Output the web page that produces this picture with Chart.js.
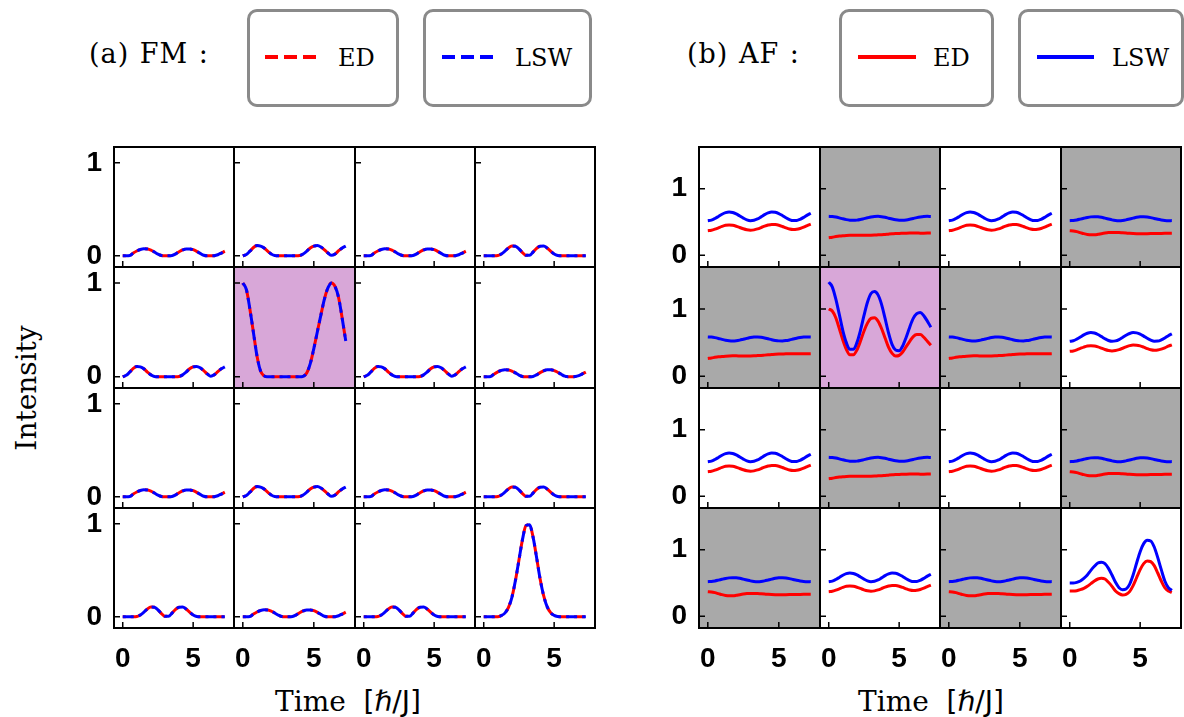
<!DOCTYPE html>
<html>
<head>
<meta charset="utf-8">
<script src="https://cdn.jsdelivr.net/npm/chart.js@4.4.1/dist/chart.umd.min.js"></script>
<style>
  body { margin: 0; background: #fff; width: 1184px; height: 717px; position: relative; overflow: hidden; font-family: 'DejaVu Serif', serif; }
  canvas { position: absolute; }
  .t { position: absolute; white-space: nowrap; line-height: 1; color: #000; }
  .box { position: absolute; top: 9px; height: 98px; border: 3px solid #8a8a8a; border-radius: 10px; box-sizing: border-box; }
  .ln { position: absolute; top: 55px; height: 4px; }
</style>
</head>
<body>
<div class="t" style="left:89px;top:40px;font-size:27px;letter-spacing:1px;word-spacing:1px">(a) FM :</div>
<div class="box" style="left:247px;width:152px"></div>
<div class="ln" style="left:265px;width:51px;background:repeating-linear-gradient(90deg,#f00 0 13px,transparent 13px 19px)"></div>
<div class="t" style="left:338px;top:46px;font-size:24px">ED</div>
<div class="box" style="left:423px;width:169px"></div>
<div class="ln" style="left:442px;width:51px;background:repeating-linear-gradient(90deg,#00f 0 13px,transparent 13px 19px)"></div>
<div class="t" style="left:515px;top:46px;font-size:24px">LSW</div>

<div class="t" style="left:687px;top:40px;font-size:27px;letter-spacing:1px;word-spacing:1px">(b) AF :</div>
<div class="box" style="left:839px;width:155px"></div>
<div class="ln" style="left:858px;width:58px;background:#f00"></div>
<div class="t" style="left:933px;top:46px;font-size:24px">ED</div>
<div class="box" style="left:1018px;width:166px"></div>
<div class="ln" style="left:1037px;width:57px;background:#00f"></div>
<div class="t" style="left:1112px;top:46px;font-size:24px">LSW</div>

<div class="t" style="left:27px;top:388px;font-size:28px;transform:translate(-50%,-50%) rotate(-90deg)">Intensity</div>
<div class="t" style="left:275px;top:688px;font-size:28px">Time&nbsp;&nbsp;<span style="font-family:'DejaVu Sans'">[<i>ℏ</i>/J]</span></div>
<div class="t" style="left:858px;top:688px;font-size:28px">Time&nbsp;&nbsp;<span style="font-family:'DejaVu Sans'">[<i>ℏ</i>/J]</span></div>

<script>
// time samples [hbar/J]
const times = [0, 0.25, 0.5, 0.75, 1, 1.25, 1.5, 1.75, 2, 2.25, 2.5, 2.75, 3, 3.25, 3.5,
  3.75, 4, 4.25, 4.5, 4.75, 5, 5.25, 5.5, 5.75, 6, 6.25, 6.5, 6.75, 7, 7.25];

// (a) FM : ED and LSW coincide
const fmSmall = [0, 0, 0.003, 0.03, 0.052, 0.068, 0.075, 0.073, 0.061, 0.041, 0.018, 0.003, 0, 0, 0.003,
  0.02, 0.044, 0.063, 0.074, 0.074, 0.066, 0.048, 0.026, 0.006, 0, 0, 0.002, 0.012, 0.03, 0.05];
const fmEarly = [0, 0.015, 0.05, 0.09, 0.11, 0.105, 0.085, 0.05, 0.02, 0.003, 0, 0, 0, 0, 0,
  0, 0.003, 0.02, 0.05, 0.085, 0.105, 0.11, 0.095, 0.065, 0.03, 0.005, 0.02, 0.055, 0.085, 0.105];
const fmMid = [0, 0, 0, 0, 0.003, 0.02, 0.05, 0.085, 0.105, 0.103, 0.075, 0.035, 0.005, 0.005, 0.04,
  0.08, 0.104, 0.105, 0.085, 0.05, 0.02, 0.004, 0, 0, 0, 0, 0, 0, 0, 0];
const fmSelf = [1.0, 0.93, 0.72, 0.47, 0.22, 0.06, 0.01, 0, 0, 0, 0, 0, 0, 0, 0,
  0, 0, 0.005, 0.04, 0.14, 0.3, 0.48, 0.66, 0.83, 0.95, 1.0, 0.96, 0.84, 0.62, 0.38];
const fmPeak = [0, 0, 0, 0, 0, 0.014, 0.04, 0.1, 0.21, 0.39, 0.61, 0.83, 0.98, 0.99, 0.86,
  0.64, 0.41, 0.23, 0.11, 0.045, 0.016, 0.004, 0, 0, 0, 0, 0, 0, 0, 0];

// (b) AF
const afWaveLSW = [0.52, 0.528, 0.552, 0.583, 0.616, 0.64, 0.65, 0.643, 0.621, 0.59, 0.558, 0.532, 0.52, 0.526, 0.546,
  0.577, 0.61, 0.636, 0.649, 0.645, 0.627, 0.597, 0.564, 0.537, 0.521, 0.523, 0.541, 0.569, 0.603, 0.631];
const afWaveED = [0.37, 0.376, 0.392, 0.413, 0.434, 0.45, 0.455, 0.451, 0.437, 0.418, 0.398, 0.383, 0.377, 0.382, 0.396,
  0.416, 0.438, 0.455, 0.464, 0.462, 0.451, 0.433, 0.412, 0.395, 0.387, 0.39, 0.403, 0.423, 0.447, 0.467];
const afGrayALSW = [0.585, 0.582, 0.574, 0.562, 0.548, 0.536, 0.528, 0.525, 0.528, 0.537, 0.55, 0.563, 0.575, 0.583, 0.585,
  0.58, 0.57, 0.557, 0.544, 0.533, 0.526, 0.525, 0.53, 0.54, 0.553, 0.566, 0.576, 0.583, 0.585, 0.583];
const afGrayAED = [0.265, 0.272, 0.281, 0.289, 0.295, 0.299, 0.302, 0.303, 0.303, 0.302, 0.301, 0.301, 0.302, 0.304, 0.307,
  0.31, 0.314, 0.318, 0.322, 0.326, 0.329, 0.331, 0.333, 0.334, 0.334, 0.334, 0.333, 0.333, 0.334, 0.336];
const afGrayBLSW = [0.52, 0.523, 0.531, 0.543, 0.556, 0.568, 0.577, 0.58, 0.578, 0.57, 0.558, 0.545, 0.532, 0.523, 0.52,
  0.523, 0.532, 0.545, 0.558, 0.57, 0.578, 0.58, 0.576, 0.566, 0.553, 0.54, 0.53, 0.523, 0.52, 0.521];
const afGrayBED = [0.37, 0.366, 0.355, 0.34, 0.325, 0.313, 0.307, 0.308, 0.315, 0.325, 0.334, 0.341, 0.344, 0.344, 0.342,
  0.338, 0.334, 0.33, 0.327, 0.325, 0.324, 0.324, 0.325, 0.326, 0.327, 0.328, 0.329, 0.33, 0.331, 0.332];
const afSelfLSW = [1.4, 1.33, 1.15, 0.92, 0.68, 0.5, 0.4, 0.4, 0.5, 0.68, 0.9, 1.1, 1.23, 1.26, 1.21,
  1.07, 0.86, 0.64, 0.47, 0.39, 0.38, 0.45, 0.58, 0.73, 0.86, 0.93, 0.95, 0.9, 0.82, 0.73];
const afSelfED = [1.0, 0.97, 0.87, 0.71, 0.54, 0.4, 0.32, 0.32, 0.39, 0.52, 0.67, 0.79, 0.86, 0.87, 0.82,
  0.71, 0.57, 0.43, 0.34, 0.3, 0.31, 0.36, 0.44, 0.52, 0.59, 0.62, 0.62, 0.58, 0.52, 0.46];
const afFarLSW = [0.5, 0.5, 0.51, 0.53, 0.57, 0.62, 0.69, 0.75, 0.8, 0.81, 0.79, 0.72, 0.62, 0.51, 0.43,
  0.4, 0.41, 0.48, 0.62, 0.8, 0.97, 1.09, 1.14, 1.13, 1.04, 0.88, 0.7, 0.53, 0.43, 0.39];
const afFarED = [0.38, 0.38, 0.385, 0.4, 0.42, 0.45, 0.49, 0.53, 0.56, 0.57, 0.56, 0.51, 0.45, 0.38, 0.34,
  0.32, 0.33, 0.37, 0.46, 0.58, 0.7, 0.79, 0.83, 0.82, 0.76, 0.65, 0.53, 0.43, 0.38, 0.36];

const fmGrid = [
  [fmSmall, fmEarly, fmSmall, fmMid],
  [fmEarly, fmSelf, fmEarly, fmSmall],
  [fmSmall, fmEarly, fmSmall, fmMid],
  [fmMid, fmSmall, fmMid, fmPeak]
];
const afGrid = [
  [[afWaveED, afWaveLSW], [afGrayAED, afGrayALSW], [afWaveED, afWaveLSW], [afGrayBED, afGrayBLSW]],
  [[afGrayAED, afGrayALSW], [afSelfED, afSelfLSW], [afGrayAED, afGrayALSW], [afWaveED, afWaveLSW]],
  [[afWaveED, afWaveLSW], [afGrayAED, afGrayALSW], [afWaveED, afWaveLSW], [afGrayBED, afGrayBLSW]],
  [[afGrayBED, afGrayBLSW], [afWaveED, afWaveLSW], [afGrayBED, afGrayBLSW], [afFarED, afFarLSW]]
];
const afShade = [
  ['w', 'g', 'w', 'g'],
  ['g', 'p', 'g', 'w'],
  ['w', 'g', 'w', 'g'],
  ['g', 'w', 'g', 'w']
];
const xTicks = [0, 5];
const yTicks = [0, 1];

const shadeColors = { w: '#ffffff', g: '#a9a9a9', p: '#d8a7d8' };
const L = 48, B = 86, T = 2, R = 2;

const framePlugin = {
  id: 'frame',
  beforeDraw(chart, args, opts) {
    const a = chart.chartArea, ctx = chart.ctx;
    ctx.save();
    ctx.fillStyle = opts.bg;
    ctx.fillRect(a.left, a.top, a.right - a.left, a.bottom - a.top);
    ctx.restore();
  },
  afterDraw(chart) {
    const a = chart.chartArea, ctx = chart.ctx;
    const xs = chart.scales.x, ys = chart.scales.y;
    ctx.save();
    ctx.strokeStyle = '#000';
    ctx.lineWidth = 1.5;
    ctx.beginPath();
    xTicks.forEach(v => {
      const px = xs.getPixelForValue(v);
      ctx.moveTo(px, a.bottom); ctx.lineTo(px, a.bottom - 6);
    });
    yTicks.forEach(v => {
      const py = ys.getPixelForValue(v);
      ctx.moveTo(a.left, py); ctx.lineTo(a.left + 6, py);
    });
    ctx.stroke();
    ctx.lineWidth = 2;
    ctx.strokeRect(a.left, a.top, a.right - a.left, a.bottom - a.top);
    ctx.restore();
  }
};

const tickFont = { family: "'Liberation Sans', Arial, sans-serif", size: 28, weight: 'bold' };

function noMargins(s) {
  s.paddingTop = 0; s.paddingBottom = 0; s.paddingLeft = 0; s.paddingRight = 0;
}

function makePanel(left, top, w, h, yMin, yMax, showX, showY, bg, datasets) {
  const cv = document.createElement('canvas');
  cv.width = L + w + R;
  cv.height = T + h + B;
  cv.style.left = (left - L) + 'px';
  cv.style.top = (top - T) + 'px';
  document.body.appendChild(cv);
  new Chart(cv.getContext('2d'), {
    type: 'line',
    data: { datasets },
    options: {
      responsive: false,
      animation: false,
      events: [],
      layout: { padding: { top: T, right: R, left: 0, bottom: 0 } },
      scales: {
        x: {
          type: 'linear', min: -0.62, max: 7.9,
          afterBuildTicks: s => { s.ticks = xTicks.map(v => ({ value: v })); },
          afterFit: s => { s.height = B; noMargins(s); },
          ticks: { display: showX, font: tickFont, color: '#000', padding: 6, maxRotation: 0, autoSkip: false },
          grid: { display: false }, border: { display: false }
        },
        y: {
          type: 'linear', min: yMin, max: yMax,
          afterBuildTicks: s => { s.ticks = yTicks.map(v => ({ value: v })); },
          afterFit: s => { s.width = L; noMargins(s); },
          ticks: { display: showY, font: tickFont, color: '#000', padding: 4 },
          grid: { display: false }, border: { display: false }
        }
      },
      plugins: { legend: { display: false }, tooltip: { enabled: false }, frame: { bg } }
    },
    plugins: [framePlugin]
  });
}

function series(vals, color, order, dash, offset) {
  return {
    data: times.map((t, i) => ({ x: t, y: vals[i] })),
    borderColor: color, borderWidth: 3, pointRadius: 0,
    cubicInterpolationMode: 'monotone', fill: false, order,
    borderDash: dash || [], borderDashOffset: offset || 0
  };
}

const pitch = 120.3;
const rowTop = r => Math.round(147 + r * pitch);

for (let r = 0; r < 4; r++) {
  for (let c = 0; c < 4; c++) {
    const top = rowTop(r), h = rowTop(r + 1) - top;
    // (a) FM
    const la = Math.round(114 + c * pitch), wa = Math.round(114 + (c + 1) * pitch) - la;
    const fv = fmGrid[r][c];
    makePanel(la, top, wa, h, -0.12, 1.17, r === 3, c === 0,
      (r === 1 && c === 1) ? shadeColors.p : shadeColors.w,
      [series(fv, '#0000ff', 0, [11, 5], 0), series(fv, '#ff0000', 1, [11, 5], 8)]);
    // (b) AF
    const lb = Math.round(699 + c * 120.5), wb = Math.round(699 + (c + 1) * 120.5) - lb;
    const [ed, lsw] = afGrid[r][c];
    makePanel(lb, top, wb, h, -0.175, 1.625, r === 3, c === 0, shadeColors[afShade[r][c]],
      [series(lsw, '#0000ff', 0), series(ed, '#ff0000', 1)]);
  }
}
</script>
</body>
</html>
